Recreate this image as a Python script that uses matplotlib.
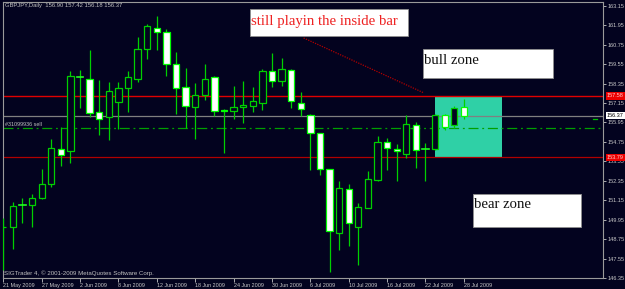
import matplotlib
matplotlib.use("Agg")
import matplotlib.pyplot as plt
from matplotlib.patches import Rectangle
from matplotlib.lines import Line2D

# ---------------- data ----------------
opens = [149.48, 149.50, 150.83, 150.84, 151.27, 152.13, 154.33, 154.17, 158.74, 158.63,
         156.59, 156.30, 157.19, 158.06, 158.63, 160.46, 161.76, 161.51, 159.57, 158.12,
         156.92, 157.62, 158.77, 156.72, 156.64, 156.88, 156.98, 157.13, 159.10, 158.53,
         159.19, 157.13, 156.41, 155.28, 153.08, 149.15, 151.84, 149.52, 150.70, 152.40,
         154.76, 154.29, 154.00, 155.76, 154.29, 154.31, 156.39, 155.79, 156.90]
highs = [150.05, 151.04, 151.29, 151.52, 153.06, 154.91, 155.67, 159.12, 159.18, 160.42,
         158.57, 158.46, 158.43, 159.12, 161.24, 162.02, 162.53, 161.71, 160.31, 159.29,
         158.36, 159.55, 158.81, 156.78, 158.20, 158.50, 158.15, 159.25, 160.21, 159.91,
         159.25, 157.83, 156.47, 155.30, 153.08, 152.34, 152.13, 150.98, 152.97, 155.11,
         154.97, 154.61, 156.41, 155.98, 154.66, 156.47, 156.50, 156.96, 157.42]
lows = [146.85, 148.14, 149.76, 149.52, 151.21, 151.95, 153.26, 153.47, 156.86, 156.30,
        155.17, 154.87, 155.55, 156.59, 158.46, 159.88, 160.42, 158.81, 156.45, 155.59,
        154.91, 157.33, 156.35, 154.05, 156.14, 155.93, 156.61, 156.72, 158.15, 158.20,
        156.82, 156.35, 153.02, 152.71, 146.74, 148.10, 148.33, 147.13, 150.68, 152.34,
        153.03, 152.34, 153.76, 153.12, 152.34, 154.25, 155.48, 155.61, 156.18]
closes = [149.52, 150.80, 150.85, 151.31, 152.13, 154.35, 153.96, 158.81, 158.77, 156.55,
          156.16, 157.89, 158.06, 158.73, 160.46, 161.90, 161.55, 159.55, 158.06, 156.96,
          157.62, 158.63, 156.66, 156.64, 156.88, 157.01, 157.25, 159.12, 158.49, 159.25,
          157.25, 156.80, 155.28, 153.06, 149.27, 151.89, 149.75, 150.71, 152.44, 154.72,
          154.35, 154.21, 155.84, 154.25, 154.27, 156.39, 155.67, 156.86, 156.37]

date_labels = ['21 May 2009', '27 May 2009', '2 Jun 2009', '8 Jun 2009', '12 Jun 2009',
               '18 Jun 2009', '24 Jun 2009', '30 Jun 2009', '6 Jul 2009', '10 Jul 2009',
               '16 Jul 2009', '22 Jul 2009', '28 Jul 2009']
label_step = 4

price_ticks = [163.15, 161.95, 160.75, 159.55, 158.35, 157.15, 155.95, 154.75,
               153.55, 152.35, 151.15, 149.95, 148.75, 147.55, 146.35]

bull_line = 157.58      # upper red line / zone top
bear_line = 153.79      # lower red line / zone bottom
bid_line = 156.37       # current price line
sell_level = 155.61     # order level (dash-dot)
zone_start, zone_end = 45, 52

header = "GBPJPY,Daily  156.90 157.42 156.18 156.37"
footer = "SIGTrader 4, \u00a9 2001-2009 MetaQuotes Software Corp."
order_label = "#31099936 sell"

# ---------------- style ----------------
BG = '#03031f'
GREEN = '#00d000'
W, H = 625, 289
UI = 'Liberation Sans'

fig = plt.figure(figsize=(W / 100, H / 100), dpi=100, facecolor=BG)
ax = fig.add_axes([3 / W, 11 / H, 600 / W, 276 / H], facecolor=BG)

ax.set_xlim(-0.03, 62.5)
ax.set_ylim(146.35, 163.38)

# zone box
ax.add_patch(Rectangle((zone_start, bear_line), zone_end - zone_start, bull_line - bear_line,
                       facecolor='#2fd0a6', edgecolor='none', zorder=1))

# horizontal lines
ax.axhline(bid_line, color='#808080', lw=0.9, zorder=2)
ax.axhline(bull_line, color='#e00000', lw=1.0, zorder=2)
ax.axhline(bear_line, color='#b00000', lw=0.9, zorder=2)
ax.axhline(sell_level, color='#00a000', lw=0.9, ls=(0, (8, 3, 1.5, 3)), zorder=2)

# candles
bw = 0.66
for i, (o, h, l, c) in enumerate(zip(opens, highs, lows, closes)):
    ax.plot([i, i], [l, h], color=GREEN, lw=0.9, zorder=3, solid_capstyle='butt')
    if abs(c - o) < 0.04:
        ax.plot([i - bw / 2, i + bw / 2], [o, o], color='#20ff20', lw=1.2, zorder=4)
        continue
    lo, hi = min(o, c), max(o, c)
    if c > o:
        ax.add_patch(Rectangle((i - bw / 2, lo), bw, hi - lo, facecolor=BG,
                               edgecolor=GREEN, lw=0.9, zorder=4))
    else:
        ax.add_patch(Rectangle((i - bw / 2, lo), bw, hi - lo, facecolor='white',
                               edgecolor='#00ff00', lw=0.9, zorder=4))

# diagonal dotted line
ax.plot([31.3, 43.8], [161.16, 157.78], color='#b00000', lw=0.9, ls=(0, (1, 1)), zorder=5)

# axes styling
for s in ['left', 'top', 'bottom', 'right']:
    ax.spines[s].set_color('#9a9a9a')
    ax.spines[s].set_linewidth(0.8)

ax.yaxis.tick_right()
ax.set_yticks(price_ticks)
ax.set_yticklabels([f"{p:.2f}" for p in price_ticks])
ax.tick_params(axis='y', colors='#c8c8c8', labelsize=4.0, length=2, width=0.6, pad=1.2,
               labelfontfamily=UI)

xt = list(range(0, len(opens), label_step))
ax.set_xticks(xt)
ax.set_xticklabels(date_labels)
ax.tick_params(axis='x', colors='#c8c8c8', labelsize=3.9, length=3, width=0.6, pad=0.8,
               labelfontfamily=UI)
for lbl in ax.get_xticklabels():
    lbl.set_ha('left')

# price labels for special lines
ytr = ax.get_yaxis_transform()
for val, fc, tc in [(bull_line, '#ee0000', '#ffd0d0'), (bid_line, 'white', 'black'),
                    (bear_line, '#ee0000', '#ffd0d0')]:
    ax.text(1.0065, val, f"{val:.2f}", transform=ytr, fontsize=4.0, color=tc,
            va='center', ha='left', family=UI,
            bbox=dict(boxstyle='square,pad=0.2', fc=fc, ec='none'), zorder=10, clip_on=False)

# header, footer, order label
fig.text(5 / W, 1 - 6 / H, header, color='#c0c0c0', fontsize=4.2, va='center', ha='left',
         family=UI)
fig.text(4 / W, 1 - 273 / H, footer, color='#c0c0c0', fontsize=4.4, va='center', ha='left',
         family=UI)
fig.text(5 / W, 1 - 124 / H, order_label, color='#c0c0c0', fontsize=3.9, va='center', ha='left',
         family=UI)

# small order marker at right
fig.add_artist(Line2D([593 / W, 597 / W], [1 - 119 / H, 1 - 119 / H], color='#00c000', lw=0.9,
                      transform=fig.transFigure))


def box(x0, y0, x1, y1):
    fig.add_artist(Rectangle((x0 / W, 1 - y1 / H), (x1 - x0) / W, (y1 - y0) / H,
                             transform=fig.transFigure, facecolor='white',
                             edgecolor='#909090', lw=0.6, zorder=20))


box(250, 9, 408, 36)
fig.text(251 / W, 1 - 21 / H, "still playin the inside bar", color='#ee2222', fontsize=10.6,
         family='Liberation Serif', va='center', ha='left', zorder=21)
box(423, 49, 553, 78)
fig.text(424 / W, 1 - 60 / H, "bull zone", color='#111111', fontsize=10.6,
         family='Liberation Serif', va='center', ha='left', zorder=21)
box(473, 194, 581, 227)
fig.text(474 / W, 1 - 204 / H, "bear zone", color='#111111', fontsize=10.6,
         family='Liberation Serif', va='center', ha='left', zorder=21)

fig.savefig('out.png', dpi=100, facecolor=BG)
